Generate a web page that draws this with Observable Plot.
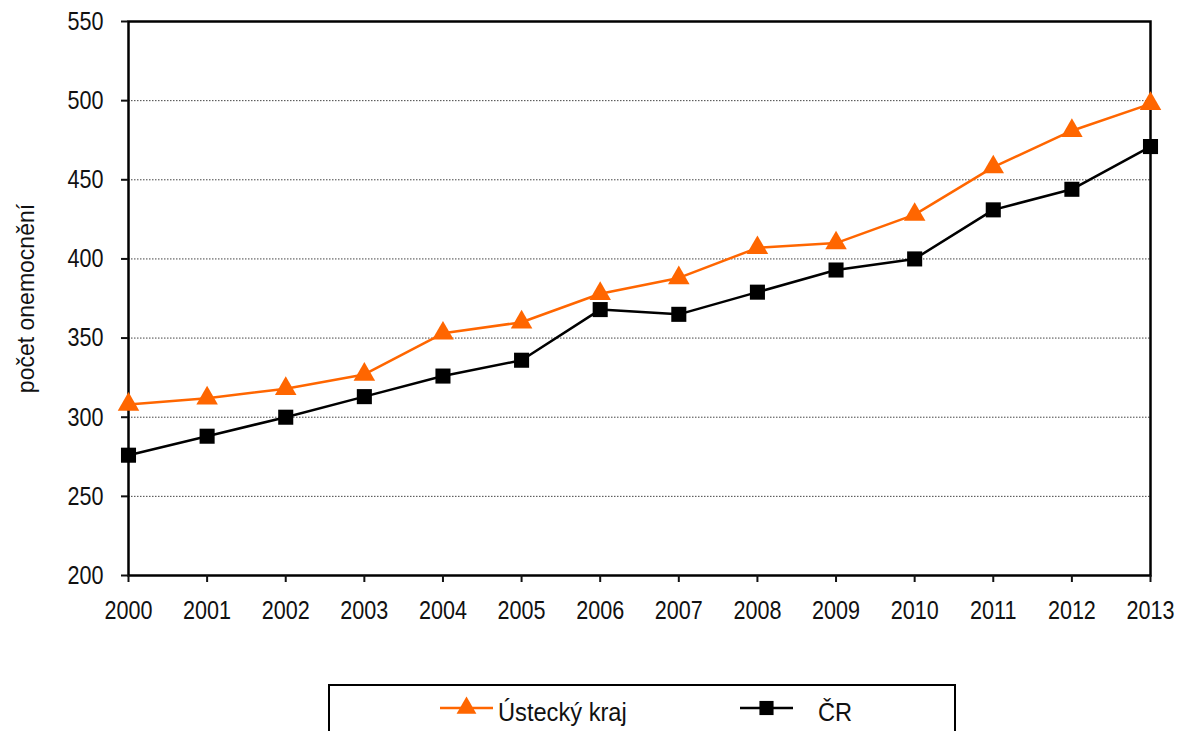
<!DOCTYPE html>
<html>
<head>
<meta charset="utf-8">
<script src="https://cdn.jsdelivr.net/npm/d3@7"></script>
<script src="https://cdn.jsdelivr.net/npm/@observablehq/plot@0.6"></script>
<style>
  body { margin: 0; background: #fff; font-family: "Liberation Sans", Arial, sans-serif; }
  #wrap { position: relative; width: 1181px; height: 731px; overflow: hidden; }
  #chart svg text { font-family: "Liberation Sans", Arial, sans-serif !important; }
  #chart g[aria-label="y-axis tick label"], #chart g[aria-label="x-axis tick label"] { font-size: 26px !important; }
  #chart g[aria-label="text"] { font-size: 23px !important; }
  #legend { position: absolute; left: 328px; top: 684px; }
</style>
</head>
<body>
<div id="wrap"><div id="chart"></div><div id="legend"></div></div>
<script>
const years = [2000, 2001, 2002, 2003, 2004, 2005, 2006, 2007, 2008, 2009, 2010, 2011, 2012, 2013];
const ustecky = [308, 312, 318, 327, 353, 360, 378, 388, 407, 410, 428, 458, 481, 498];
const cr = [276, 288, 300, 313, 326, 336, 368, 365, 379, 393, 400, 431, 444, 471];
const seriesNames = ["Ústecký kraj", "ČR"];
const yTicks = [200, 250, 300, 350, 400, 450, 500, 550];
const gridValues = [250, 300, 350, 400, 450, 500];
const yLabel = "počet onemocnění";

const orange = "#FF6600";
const font = "Liberation Sans, Arial, sans-serif";

const dataU = years.map((y, i) => ({year: y, value: ustecky[i]}));
const dataC = years.map((y, i) => ({year: y, value: cr[i]}));

const chart = Plot.plot({
  width: 1181,
  height: 660,
  marginLeft: 128,
  marginRight: 31,
  marginTop: 21,
  marginBottom: 85,
  style: {fontFamily: font, fontSize: "26px", color: "#111", background: "#fff"},
  x: {domain: [2000, 2013]},
  y: {domain: [200, 550]},
  marks: [
    Plot.ruleY(gridValues, {stroke: "#444", strokeWidth: 1, strokeDasharray: "1.5,1.5"}),
    Plot.frame({stroke: "#000", strokeWidth: 2.5}),
    Plot.axisY(yTicks, {tickSize: 7, tickPadding: 18, strokeWidth: 2, label: null}),
    Plot.axisX(years, {tickSize: 7, tickPadding: 18, strokeWidth: 2, tickFormat: d => String(d), label: null}),
    Plot.text([yLabel], {frameAnchor: "left", dx: -102, rotate: -90, textAnchor: "middle", fill: "#111"}),
    Plot.line(dataU, {x: "year", y: "value", stroke: orange, strokeWidth: 2.5}),
    Plot.line(dataC, {x: "year", y: "value", stroke: "#000", strokeWidth: 2.5}),
    Plot.dot(dataU, {x: "year", y: "value", symbol: "triangle", r: 8, fill: orange, stroke: "none"}),
    Plot.dot(dataC, {x: "year", y: "value", symbol: "square", r: 8.5, fill: "#000", stroke: "none"})
  ]
});
document.getElementById("chart").appendChild(chart);

// Condense tick labels horizontally (the original uses a narrow sans font)
d3.select(chart).selectAll('g[aria-label="x-axis tick label"] text, g[aria-label="y-axis tick label"] text')
  .each(function () {
    const t = this.getAttribute("transform") || "";
    const xa = this.getAttribute("x");
    let x = 0;
    if (xa != null && /^-?[\d.]+$/.test(xa.trim())) { x = +xa; this.removeAttribute("x"); }
    this.setAttribute("transform", `${t} translate(${x},0) scale(0.83,1)`);
  });

// Legend (below the chart, clipped by the window like the original)
const lg = d3.select("#legend").append("svg").attr("width", 628).attr("height", 60)
  .style("font-family", font).style("font-size", "26px");
lg.append("rect").attr("x", 1).attr("y", 1).attr("width", 626).attr("height", 80)
  .attr("fill", "#fff").attr("stroke", "#000").attr("stroke-width", 2);
const items = [
  {name: seriesNames[0], color: orange, symbol: d3.symbolTriangle, size: 170, x0: 112, tx: 170},
  {name: seriesNames[1], color: "#000", symbol: d3.symbolSquare, size: 200, x0: 412, tx: 490}
];
for (const it of items) {
  const g = lg.append("g");
  g.append("line").attr("x1", it.x0).attr("x2", it.x0 + 53).attr("y1", 24).attr("y2", 24)
    .attr("stroke", it.color).attr("stroke-width", 2.5);
  g.append("path").attr("transform", `translate(${it.x0 + 26.5},24)`)
    .attr("d", d3.symbol(it.symbol, it.size)()).attr("fill", it.color);
  g.append("text").attr("transform", `translate(${it.tx},37) scale(0.91,1)`)
    .attr("fill", "#111").text(it.name);
}
</script>
</body>
</html>
